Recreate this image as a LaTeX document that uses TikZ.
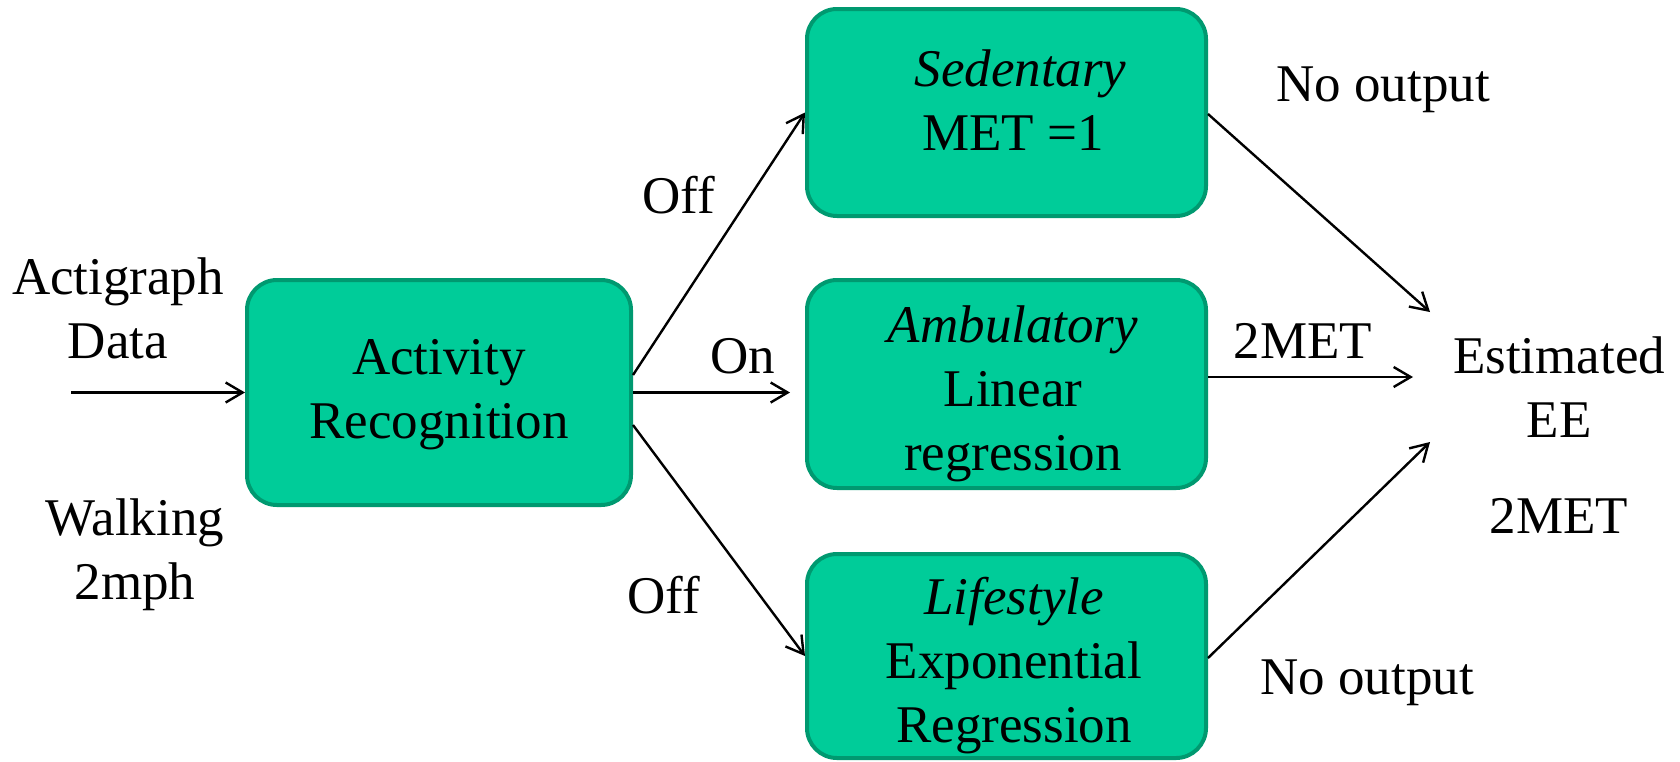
\documentclass[tikz,border=0pt]{standalone}
\usepackage{fontspec}
\setmainfont{Liberation Serif}
\usetikzlibrary{arrows.meta,calc}
\definecolor{boxfill}{HTML}{00CC99}
\definecolor{boxline}{HTML}{009970}
\newcommand{\mlines}[1]{\begin{tabular}[t]{@{}c@{}}#1\end{tabular}}
\begin{document}
\begin{tikzpicture}[x=1pt,y=-1pt,
  box/.style={draw=boxline, fill=boxfill, line width=4pt, rounded corners=30pt,
              minimum width=399pt, minimum height=207pt, inner sep=0pt},
  txt/.style={anchor=base, inner sep=0pt, font=\fontsize{53}{64}\selectfont},
  arr/.style={line width=2.4pt, -{Straight Barb[length=17pt,width=20pt]}}]
\useasboundingbox (0,0) rectangle (1680,761);

% boxes
\node[box, minimum width=384pt, minimum height=225pt] (act) at (439,392.5) {};
\node[box, minimum height=207pt] (sed) at (1006.5,112.5) {};
\node[box, minimum height=208pt] (amb) at (1006.5,384) {};
\node[box, minimum height=204pt] (life) at (1006.5,656) {};

% box texts
\node[txt] (acttxt) at (439,374) {\mlines{Activity\\Recognition}};
\node[txt] (sedtxt) at (1013,86) {\mlines{\hspace*{15pt}\textit{Sedentary}\\MET =1}};
\node[txt] (ambtxt) at (1013,342) {\mlines{\textit{Ambulatory}\\Linear\\regression}};
\node[txt] (lifetxt) at (1014,614) {\mlines{\textit{Lifestyle}\\Exponential\\Regression}};

% outside labels
\node[txt] (input) at (118,294) {\mlines{Actigraph\\Data}};
\node[txt] (walk) at (135,535) {\mlines{Walking\\2mph}};
\node[txt] (off1) at (679,213) {Off};
\node[txt] (on) at (743,373) {On};
\node[txt] (off2) at (664,613) {Off};
\node[txt] (noout1) at (1383,101) {No output};
\node[txt] (met2) at (1303,358) {2MET};
\node[txt] (ee) at (1559,373) {\mlines{Estimated\\EE}};
\node[txt] (met2b) at (1559,533) {2MET};
\node[txt] (noout2) at (1367,694) {No output};

% connector end points
\coordinate (start) at (71,392.5);
\coordinate (onend) at ($(amb.west)+(-15,0)$);
\coordinate (t1) at (1430,312);
\coordinate (t2) at (1413,377);
\coordinate (t3) at (1430,442);

% connectors
\draw[arr] (start) -- (act.west);
\draw[arr] ($(act.east)+(0,-17.5)$) -- (sed.west);
\draw[arr] (act.east) -- (act.east -| onend);
\draw[arr] ($(act.east)+(0,32.5)$) -- (life.west);
\draw[arr] ($(sed.east)+(0,1.5)$) -- (t1);
\draw[arr] ($(amb.east)+(0,-7)$) -- (t2);
\draw[arr] ($(life.east)+(0,2)$) -- (t3);
\end{tikzpicture}
\end{document}
